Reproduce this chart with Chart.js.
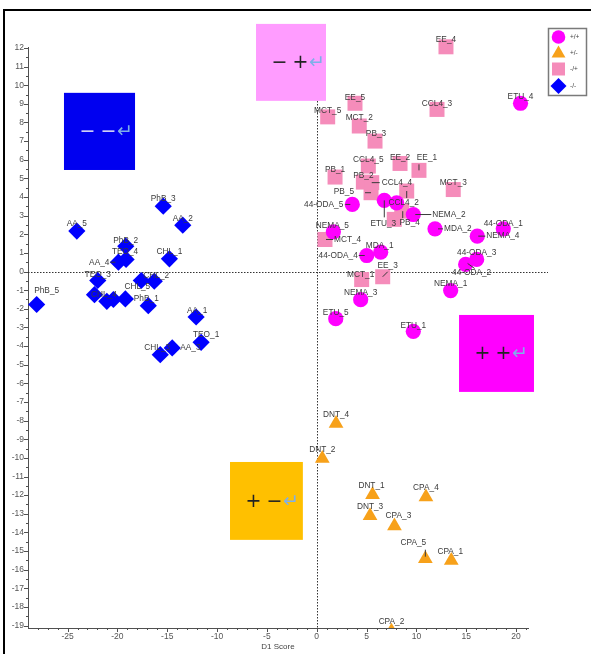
<!DOCTYPE html>
<html>
<head>
<meta charset="utf-8">
<script src="https://cdn.jsdelivr.net/npm/chart.js@4/dist/chart.umd.min.js"></script>
<style>
  html, body { margin: 0; padding: 0; background: #fff; }
  canvas { display: block; }
</style>
</head>
<body>
<canvas id="c" width="591" height="654"></canvas>
<script>
// ---- Scores per group (D1 on x, D2 on y) ----
// +/+  (circles)
const ppNames = ['ETU_4', '44-ODA_5', 'ETU_3', 'ETU_2', 'NEMA_2', 'MDA_2', '44-ODA_1', 'NEMA_4', 'NEMA_5',
                 '44-ODA_4', 'MDA_1', '44-ODA_3', '44-ODA_2', 'NEMA_1', 'NEMA_3', 'ETU_5', 'ETU_1'];
const ppX = [20.45, 3.57, 6.78, 8.02, 9.69, 11.87, 18.72, 16.11, 1.67, 5.02, 6.42, 16.05, 14.94, 13.44, 4.41, 1.91, 9.69];
const ppY = [9.03, 3.6, 3.82, 3.69, 3.06, 2.29, 2.29, 1.9, 2.13, 0.86, 1.04, 0.65, 0.38, -1.02, -1.51, -2.53, -3.21];

// +/-  (triangles)
const pmNames = ['DNT_4', 'DNT_2', 'DNT_1', 'CPA_4', 'DNT_3', 'CPA_3', 'CPA_5', 'CPA_1', 'CPA_2'];
const pmX = [1.94, 0.56, 5.6, 10.96, 5.35, 7.8, 10.9, 13.5, 7.5];
const pmY = [-8.16, -10.04, -11.98, -12.1, -13.11, -13.66, -15.41, -15.51, -19.3];

// -/+  (squares)
const mpNames = ['EE_4', 'EE_5', 'MCT_5', 'CCL4_3', 'MCT_2', 'PB_3', 'CCL4_5', 'EE_2', 'EE_1', 'PB_1',
                 'PB_2', 'MCT_3', 'PB_5', 'CCL4_4', 'CCL4_2', 'PB_4', 'CCL4_1', 'MCT_4', 'MCT_1', 'EE_3'];
const mpX = [12.97, 3.84, 1.1, 12.07, 4.27, 5.85, 5.18, 8.36, 10.26, 1.84,
             4.68, 13.7, 5.45, 5.52, 9.03, 8.53, 7.78, 0.83, 4.51, 6.62];
const mpY = [12.06, 9.03, 8.3, 8.7, 7.81, 7.0, 5.66, 5.8, 5.43, 5.07,
             4.8, 4.4, 4.23, 4.77, 4.32, 3.24, 2.8, 1.72, -0.43, -0.28];

// -/-  (diamonds)
const mmNames = ['PhB_3', 'AA_2', 'AA_5', 'PhB_2', 'TEO_4', 'AA_4', 'CHL_1', 'TEO_3', 'CHL_5', 'CHL_2',
                 'TEO_5', 'CHL_4', 'TEO_2', 'PhB_4', 'PhB_5', 'PhB_1', 'AA_1', 'TEO_1', 'AA_3', 'CHL_3'];
const mmX = [-15.4, -13.44, -24.07, -19.16, -19.13, -19.9, -14.78, -21.97, -17.6, -16.3,
             -22.3, -21.06, -20.4, -19.2, -28.1, -16.9, -12.1, -11.6, -14.5, -15.7];
const mmY = [3.51, 2.49, 2.17, 1.36, 0.65, 0.5, 0.68, -0.48, -0.48, -0.52,
             -1.24, -1.6, -1.5, -1.47, -1.77, -1.83, -2.44, -3.8, -4.1, -4.46];

// Legend captions
const groupLabels = ['+/+', '+/-', '-/+', '-/-'];

// Axis ranges and tick spacing
const xRange = [-28.97, 21.2];
const yRange = [-19.13, 12.05];
const xMajorStep = 5;
const yMajorStep = 1;

// Quadrant key boxes: [x0, x1, y0, y1] in score units, with their glyphs
const keyBoxes = [
  { rect: [-25.36, -18.23, 9.59, 5.45], glyphs: ['\u2212', '\u2212'] },
  { rect: [-6.09, 0.93, 13.29, 9.16],  glyphs: ['\u2212', '+'] },
  { rect: [14.28, 21.8, -2.33, -6.46], glyphs: ['+', '+'] },
  { rect: [-8.70, -1.39, -10.22, -14.4], glyphs: ['+', '\u2212'] }
];

// ---- Presentation ----
const colors = {
  pp: '#FF00FF', pm: '#F7A11A', mp: '#F58CBA', mm: '#0000FF',
  boxes: ['#0000F0', '#FF9CFF', '#FF00FF', '#FFC000'],
  boxGlyph: ['#D8D8F4', '#222222', '#222222', '#222222'],
  arrow: '#7FAFE8', text: '#3A3A3A', axis: '#505050'
};

// Label placement around each marker (pixels): default is centred just above
const labelPlacement = {
  '44-ODA_5': { dx: -9, dy: 0, align: 'right', lead: [-7, 0, -2, 0] },
  'ETU_3':    { dx: -1, dy: 23, lead: [0, 0, 0, 17] },
  'NEMA_2':   { dx: 19, dy: 0, align: 'left', lead: [2, 0, 18, 0] },
  'MDA_2':    { dx: 9, dy: 0, align: 'left', lead: [3, 0, 8, 0] },
  '44-ODA_1': { dx: 0, dy: -5 },
  'NEMA_4':   { dx: 9, dy: 0, align: 'left', lead: [1, 0, 8, 0] },
  'NEMA_5':   { dx: -1, dy: -6 },
  '44-ODA_4': { dx: -9, dy: 0, align: 'right', lead: [-8, 0, -2, 0] },
  'MDA_1':    { dx: -1, dy: -6 },
  '44-ODA_2': { dx: 6, dy: 8, lead: [2, -1, 9, 4] },
  'ETU_5':    { dx: 0, dy: -6 },
  'ETU_1':    { dx: 0, dy: -6 },
  'DNT_4': { dx: 0, dy: -9 }, 'DNT_2': { dx: 0, dy: -9 }, 'DNT_1': { dx: -1, dy: -9 },
  'CPA_4': { dx: 0, dy: -9 }, 'DNT_3': { dx: 0, dy: -9 }, 'CPA_3': { dx: 4, dy: -10 },
  'CPA_5': { dx: -12, dy: -16, lead: [0, -9, 0, -2] },
  'CPA_1': { dx: -1, dy: -9 }, 'CPA_2': { dx: 0, dy: -9 },
  'EE_5': { dx: 0, dy: -6 }, 'MCT_5': { dx: 0, dy: -6 }, 'CCL4_3': { dx: 0, dy: -6 },
  'MCT_2': { dx: 0, dy: -8 }, 'PB_3': { dx: 1, dy: -7 }, 'CCL4_5': { dx: 0, dy: -6 },
  'EE_2': { dx: 0, dy: -6 },
  'EE_1': { dx: 8, dy: -13, lead: [0, -6, 0, 0] },
  'PB_2': { dx: 0, dy: -6 },
  'PB_5': { dx: -17, dy: -1, align: 'right', lead: [-6, 0, 0, 0] },
  'CCL4_4': { dx: 10, dy: 0, align: 'left', lead: [0, 0, 8, 0] },
  'CCL4_2': { dx: -3, dy: 12, lead: [0, 0, 0, 7] },
  'PB_4': { dx: 8, dy: 12, lead: [1, 0, 1, 7] },
  'MCT_4': { dx: 9, dy: 0, align: 'left', lead: [1, 0, 8, 0] },
  'MCT_1': { dx: -1, dy: -5 },
  'EE_3': { dx: 5, dy: -11, lead: [0, 0, 5, -5] },
  'AA_2': { dx: 0, dy: -6 }, 'PhB_2': { dx: 0, dy: -5 }, 'TEO_4': { dx: -1, dy: -8 },
  'AA_4': { dx: -9, dy: 0, align: 'right', lead: [-8, 0, -3, 0] },
  'TEO_3': { dx: 0, dy: -6 },
  'CHL_5': { dx: -4, dy: 6 },
  'CHL_2': { dx: 2, dy: -6 },
  'CHL_4': { dx: -3, dy: -7 },
  'PhB_5': { dx: 10, dy: -14 },
  'PhB_1': { dx: -2, dy: -7 },
  'AA_1': { dx: 1, dy: -6 },
  'TEO_1': { dx: 5, dy: -8 },
  'AA_3': { dx: 8, dy: 0, align: 'left' },
  'CHL_3': { dx: -3, dy: -7 }
};
// Names whose captions sit fully under neighbouring markers
const unlabelled = ['ETU_2', 'CCL4_1', 'TEO_5', 'TEO_2', 'PhB_4'];

const toPoints = (xs, ys) => xs.map((x, i) => ({ x: x, y: ys[i] }));
const groups = [
  { names: ppNames, xs: ppX, ys: ppY, style: 'circle',   radius: 7.6, color: colors.pp, order: 2 },
  { names: pmNames, xs: pmX, ys: pmY, style: 'triangle', radius: 8.5, color: colors.pm, order: 3 },
  { names: mpNames, xs: mpX, ys: mpY, style: 'rect',     radius: 10.6, color: colors.mp, order: 4 },
  { names: mmNames, xs: mmX, ys: mmY, style: 'rectRot',  radius: 8.6, color: colors.mm, order: 1 }
];

const labelFont = '8.3px "Liberation Sans", Arial, sans-serif';

const decor = {
  id: 'decor',
  beforeDraw(chart) {
    const ctx = chart.ctx;
    ctx.save();
    ctx.fillStyle = '#000';
    ctx.fillRect(3, 9, 2, chart.height - 9);
    ctx.fillRect(3, 9, chart.width - 3, 2);
    ctx.restore();
  },
  beforeDatasetsDraw(chart) {
    const { ctx, chartArea, scales: { x, y } } = chart;
    ctx.save();
    ctx.strokeStyle = '#333';
    ctx.lineWidth = 1;
    ctx.setLineDash([1.5, 1.5]);
    const y0 = Math.round(y.getPixelForValue(0)) + 0.5;
    ctx.beginPath();
    ctx.moveTo(chartArea.left, y0);
    ctx.lineTo(chartArea.right + 20, y0);
    ctx.stroke();
    const x0 = Math.round(x.getPixelForValue(0)) + 0.5;
    ctx.beginPath();
    ctx.moveTo(x0, chartArea.top);
    ctx.lineTo(x0, chartArea.bottom);
    ctx.stroke();
    ctx.restore();
  },
  afterDatasetsDraw(chart) {
    const ctx = chart.ctx;
    ctx.save();
    ctx.font = labelFont;
    ctx.textBaseline = 'middle';
    ctx.fillStyle = colors.text;
    ctx.strokeStyle = colors.text;
    ctx.lineWidth = 1;
    chart.data.datasets.forEach((ds, di) => {
      const meta = chart.getDatasetMeta(di);
      ds.names.forEach((name, i) => {
        const el = meta.data[i];
        if (!el) return;
        const p = labelPlacement[name] || { dx: 0, dy: -7 };
        if (p.lead) {
          ctx.beginPath();
          ctx.moveTo(el.x + p.lead[0], el.y + p.lead[1]);
          ctx.lineTo(el.x + p.lead[2], el.y + p.lead[3]);
          ctx.stroke();
        }
        if (unlabelled.includes(name)) return;
        ctx.textAlign = p.align || 'center';
        ctx.fillText(name, el.x + p.dx, el.y + p.dy);
      });
    });
    ctx.restore();
  },
  afterDraw(chart) {
    const { ctx, chartArea, scales: { x, y } } = chart;
    ctx.save();
    // axis tick marks (major and minor)
    ctx.strokeStyle = colors.axis;
    ctx.lineWidth = 1;
    ctx.beginPath();
    for (let v = Math.ceil(xRange[0]); v <= xRange[1]; v++) {
      const px = Math.round(x.getPixelForValue(v)) + 0.5;
      const len = v % xMajorStep === 0 ? 4 : 2;
      ctx.moveTo(px, chartArea.bottom);
      ctx.lineTo(px, chartArea.bottom + len);
    }
    for (let v = Math.ceil(yRange[0] * 2) / 2; v <= yRange[1]; v += 0.5) {
      const py = Math.round(y.getPixelForValue(v)) + 0.5;
      const len = Number.isInteger(v) ? 4 : 2;
      ctx.moveTo(chartArea.left - len, py);
      ctx.lineTo(chartArea.left, py);
    }
    ctx.stroke();

    // axis title
    ctx.fillStyle = '#444';
    ctx.font = '8px "Liberation Sans", Arial, sans-serif';
    ctx.textAlign = 'center';
    ctx.textBaseline = 'middle';
    ctx.fillText('D1 Score', (chartArea.left + chartArea.right) / 2, 647);

    // quadrant key boxes
    keyBoxes.forEach((b, i) => {
      const l = x.getPixelForValue(b.rect[0]);
      const r = x.getPixelForValue(b.rect[1]);
      const t = y.getPixelForValue(b.rect[2]);
      const btm = y.getPixelForValue(b.rect[3]);
      ctx.fillStyle = colors.boxes[i];
      ctx.fillRect(l, t, r - l, btm - t);
      const cy = (t + btm) / 2 + 1;
      ctx.font = '19px "DejaVu Sans", sans-serif';
      ctx.textAlign = 'center';
      ctx.textBaseline = 'middle';
      ctx.fillStyle = colors.boxGlyph[i];
      ctx.fillText(b.glyphs[0], l + 23.5, cy);
      ctx.fillText(b.glyphs[1], l + 44.5, cy);
      ctx.fillStyle = colors.arrow;
      ctx.fillText('\u21B5', l + 61, cy);
    });

    // legend
    const lx = 548.5, ly = 28.5, lw = 38, lh = 67;
    ctx.fillStyle = '#fff';
    ctx.fillRect(lx, ly, lw, lh);
    ctx.strokeStyle = '#7a7a7a';
    ctx.lineWidth = 1.5;
    ctx.strokeRect(lx, ly, lw, lh);
    const rowY = [37, 53.5, 69, 86];
    groups.forEach((g, i) => {
      ctx.fillStyle = g.color;
      Chart.helpers.drawPoint(ctx, {
        pointStyle: g.style,
        radius: g.style === 'rect' ? 9.2 : (g.style === 'circle' ? 6.8 : 8),
        rotation: 0,
        borderWidth: 0
      }, 558.5, rowY[i]);
      ctx.fillStyle = '#444';
      ctx.font = '6.5px "Liberation Sans", Arial, sans-serif';
      ctx.textAlign = 'left';
      ctx.textBaseline = 'middle';
      ctx.fillText(groupLabels[i], 570, rowY[i]);
    });
    ctx.restore();
  }
};

new Chart(document.getElementById('c'), {
  type: 'scatter',
  data: {
    datasets: groups.map((g, i) => ({
      label: groupLabels[i],
      names: g.names,
      data: toPoints(g.xs, g.ys),
      pointStyle: g.style,
      pointRadius: g.radius,
      pointHoverRadius: g.radius,
      backgroundColor: g.color,
      borderWidth: 0,
      order: g.order,
      // markers may overhang the plot edges except at the bottom axis
      clip: { left: false, top: false, right: false, bottom: 0 }
    }))
  },
  options: {
    responsive: false,
    animation: false,
    devicePixelRatio: 1,
    events: [],
    layout: { padding: { top: 47, right: 63, bottom: 0, left: 0 } },
    plugins: { legend: { display: false }, tooltip: { enabled: false } },
    scales: {
      x: {
        type: 'linear',
        min: xRange[0], max: xRange[1],
        grid: { display: false, drawTicks: false },
        border: { display: true, color: colors.axis, width: 1 },
        ticks: {
          stepSize: xMajorStep, includeBounds: false, autoSkip: false, maxRotation: 0,
          padding: 4, color: '#555',
          font: { family: '"Liberation Sans", Arial, sans-serif', size: 8.5 }
        },
        afterFit(s) { s.height = 26; }
      },
      y: {
        type: 'linear',
        min: yRange[0], max: yRange[1],
        grid: { display: false, drawTicks: false },
        border: { display: true, color: colors.axis, width: 1 },
        ticks: {
          stepSize: yMajorStep, includeBounds: false, autoSkip: false,
          padding: 4, color: '#555',
          font: { family: '"Liberation Sans", Arial, sans-serif', size: 8.5 }
        },
        afterFit(s) { s.width = 28; }
      }
    }
  },
  plugins: [decor]
});
</script>
</body>
</html>
